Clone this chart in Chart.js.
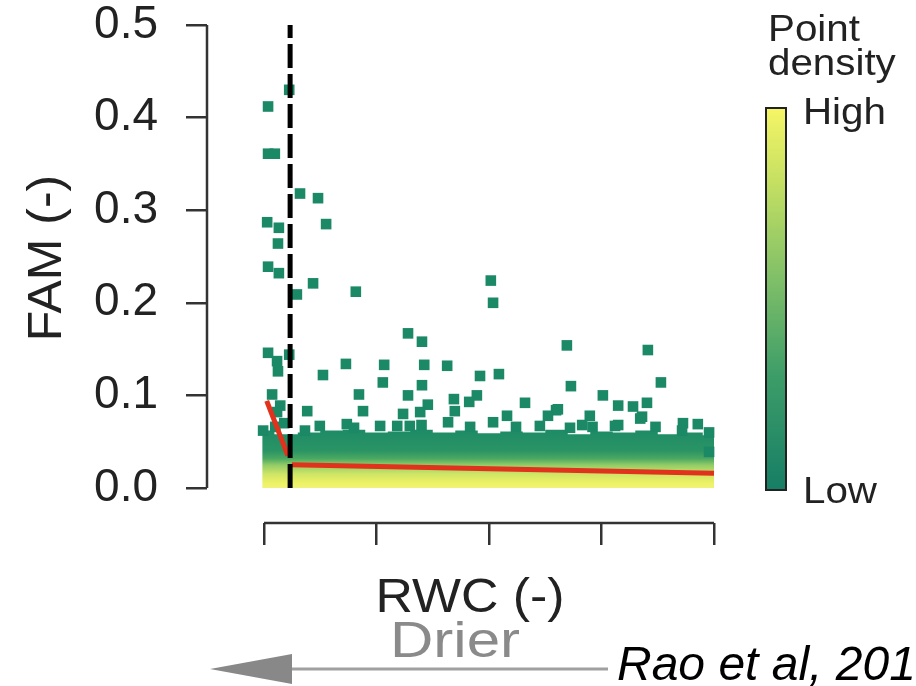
<!DOCTYPE html>
<html>
<head>
<meta charset="utf-8">
<script src="https://cdn.jsdelivr.net/npm/chart.js@4.4.1/dist/chart.umd.min.js"></script>
<style>
html, body { margin: 0; padding: 0; background: #fff; }
canvas { display: block; }
</style>
</head>
<body>
<canvas id="famChart" width="916" height="686"></canvas>
<script>
// axis ticks
const yTicks = [0, 0.1, 0.2, 0.3, 0.4, 0.5];
const xTicks = [0, 0.25, 0.5, 0.75, 1];

// low-density points
const outlierX = [
    0.056, 0.009, 0.009, 0.024, 0.080, 0.120, 0.007, 0.033, 0.138, 0.031,
    0.009, 0.033, 0.109, 0.073, 0.204, 0.504, 0.509, 0.320, 0.351, 0.673,
    0.853, 0.009, 0.029, 0.056, 0.031, 0.182, 0.267, 0.356, 0.407, 0.131,
    0.480, 0.522, 0.264, 0.351, 0.682, 0.882, 0.211, 0.320, 0.422, 0.473,
    0.456, 0.753, 0.018, 0.580, 0.096, 0.220, 0.364, 0.347, 0.424, 0.787,
    0.820, 0.851, 0.649, 0.631, 0.540, 0.309, 0.724, 0.840, 0.036, 0.029, 0.653
];
const outlierY = [
    0.430, 0.412, 0.361, 0.361, 0.318, 0.313, 0.287, 0.281, 0.285, 0.264,
    0.239, 0.232, 0.221, 0.209, 0.212, 0.224, 0.200, 0.167, 0.158, 0.154,
    0.149, 0.146, 0.137, 0.144, 0.126, 0.134, 0.133, 0.133, 0.132, 0.122,
    0.121, 0.123, 0.114, 0.111, 0.110, 0.114, 0.101, 0.100, 0.096, 0.100,
    0.093, 0.100, 0.101, 0.092, 0.083, 0.083, 0.090, 0.082, 0.083, 0.089,
    0.088, 0.092, 0.084, 0.078, 0.078, 0.080, 0.078, 0.077, 0.089, 0.082, 0.085
];

// points sitting on the edge of the dense cloud
const edgeX = [0.707, 0.787, 0.836, 0.931, 0.964, 0.989, 0.929, 0.091, 0.124, 0.184,
    0.258, 0.296, 0.409, 0.324, 0.458, 0.509, 0.613, 0.780, 0.989, -0.002,
    0.025, 0.045, 0.560, 0.680, 0.870, 0.200, 0.350, 0.730];
const edgeY = [0.068, 0.068, 0.075, 0.070, 0.069, 0.060, 0.062, 0.062, 0.067, 0.069,
    0.067, 0.067, 0.071, 0.067, 0.066, 0.071, 0.067, 0.067, 0.039, 0.062,
    0.066, 0.070, 0.066, 0.065, 0.066, 0.065, 0.068, 0.066];

// upper edge of the high-density cloud
const bandX = [-0.004, 0.05, 0.1, 0.15, 0.2, 0.25, 0.3, 0.35, 0.4, 0.45, 0.5,
    0.55, 0.6, 0.65, 0.7, 0.75, 0.8, 0.85, 0.9, 0.95, 1.0];
const bandTop = [0.062, 0.058, 0.060, 0.062, 0.063, 0.060, 0.061, 0.063, 0.060, 0.062, 0.059,
    0.061, 0.060, 0.063, 0.058, 0.061, 0.060, 0.062, 0.058, 0.060, 0.057];

// piecewise fit and threshold
const fitSteepX = [0.006, 0.053];
const fitSteepY = [0.094, 0.035];
const fitFlatX = [0.062, 1.0];
const fitFlatY = [0.025, 0.016];
const thresholdX = 0.058;

const FONT = "'Liberation Sans', Arial, sans-serif";
const TEAL = '#1b8866';

function zip(xs, ys) {
    return xs.map((x, i) => ({ x: x, y: ys[i] }));
}

function bandFill(context) {
    const chart = context.chart;
    if (!chart.chartArea) return TEAL;
    const y = chart.scales.y;
    const g = chart.ctx.createLinearGradient(0, y.getPixelForValue(0.065), 0, y.getPixelForValue(0));
    g.addColorStop(0, '#1d8a67');
    g.addColorStop(0.38, '#2a9464');
    g.addColorStop(0.51, '#4aa862');
    g.addColorStop(0.62, '#93cc66');
    g.addColorStop(0.77, '#cfe566');
    g.addColorStop(0.92, '#eef263');
    g.addColorStop(1, '#f0f27a');
    return g;
}

function stretchText(ctx, text, x, y, align, sx) {
    ctx.save();
    ctx.translate(x, y);
    ctx.scale(sx, 1);
    ctx.textAlign = align;
    ctx.fillText(text, 0, 0);
    ctx.restore();
}

const decorations = {
    id: 'decorations',
    afterDraw(chart) {
        const ctx = chart.ctx;
        const xs = chart.scales.x;
        const ys = chart.scales.y;
        const area = chart.chartArea;

        ctx.save();
        // R style axis lines
        ctx.strokeStyle = '#333';
        ctx.lineWidth = 2.5;
        ctx.beginPath();
        ctx.moveTo(area.left, ys.getPixelForValue(0.5));
        ctx.lineTo(area.left, ys.getPixelForValue(0));
        ctx.moveTo(xs.getPixelForValue(0), area.bottom);
        ctx.lineTo(xs.getPixelForValue(1), area.bottom);
        ctx.stroke();

        // axis titles
        ctx.fillStyle = '#222';
        ctx.textBaseline = 'alphabetic';
        ctx.font = '48px ' + FONT;
        stretchText(ctx, 'RWC (-)', 470, 612, 'center', 1.08);
        ctx.save();
        ctx.translate(61, 258);
        ctx.rotate(-Math.PI / 2);
        stretchText(ctx, 'FAM (-)', 0, 0, 'center', 1.04);
        ctx.restore();

        // drier arrow
        ctx.fillStyle = '#8a8a8a';
        ctx.font = '50px ' + FONT;
        stretchText(ctx, 'Drier', 455, 657, 'center', 1.2);
        ctx.strokeStyle = '#a0a0a0';
        ctx.lineWidth = 3;
        ctx.beginPath();
        ctx.moveTo(290, 669);
        ctx.lineTo(608, 669);
        ctx.stroke();
        ctx.fillStyle = '#888';
        ctx.beginPath();
        ctx.moveTo(210, 669);
        ctx.lineTo(292, 654);
        ctx.lineTo(292, 684);
        ctx.closePath();
        ctx.fill();

        // citation
        ctx.fillStyle = '#000';
        ctx.font = 'italic 48px ' + FONT;
        ctx.textAlign = 'left';
        ctx.fillText('Rao et al, 2015', 617, 680);

        // colour bar
        const cb = ctx.createLinearGradient(0, 490, 0, 108);
        cb.addColorStop(0, '#167e65');
        cb.addColorStop(0.3, '#3d9d68');
        cb.addColorStop(0.55, '#7fbf68');
        cb.addColorStop(0.8, '#c3df62');
        cb.addColorStop(1, '#f6f566');
        ctx.fillStyle = cb;
        ctx.fillRect(766, 108, 20, 382);
        ctx.strokeStyle = '#222';
        ctx.lineWidth = 2;
        ctx.strokeRect(766, 108, 20, 382);

        ctx.fillStyle = '#222';
        ctx.font = '36px ' + FONT;
        stretchText(ctx, 'Point', 768, 41, 'left', 1.12);
        stretchText(ctx, 'density', 768, 75, 'left', 1.12);
        stretchText(ctx, 'High', 803, 124, 'left', 1.12);
        stretchText(ctx, 'Low', 803, 503, 'left', 1.12);
        ctx.restore();
    }
};

const ctx = document.getElementById('famChart').getContext('2d');
new Chart(ctx, {
    type: 'scatter',
    data: {
        datasets: [
            {
                label: 'Threshold',
                data: [{ x: thresholdX, y: 0 }, { x: thresholdX, y: 0.5 }],
                showLine: true,
                borderColor: '#000',
                borderWidth: 5,
                borderDash: [24, 6],
                pointRadius: 0,
                order: 0
            },
            {
                label: 'Fit steep',
                data: zip(fitSteepX, fitSteepY),
                showLine: true,
                borderColor: '#e0321c',
                borderWidth: 5,
                pointRadius: 0,
                order: 1
            },
            {
                label: 'Fit flat',
                data: zip(fitFlatX, fitFlatY),
                showLine: true,
                borderColor: '#e0321c',
                borderWidth: 5,
                pointRadius: 0,
                order: 1
            },
            {
                label: 'Low density',
                data: zip(outlierX, outlierY).concat(zip(edgeX, edgeY)),
                pointStyle: 'rect',
                pointRadius: 7.5,
                backgroundColor: TEAL,
                borderWidth: 0,
                order: 2
            },
            {
                label: 'Dense cloud',
                data: zip(bandX, bandTop),
                showLine: true,
                stepped: 'middle',
                fill: 'origin',
                backgroundColor: bandFill,
                borderColor: TEAL,
                borderWidth: 0,
                pointRadius: 0,
                order: 3
            }
        ]
    },
    options: {
        responsive: false,
        animation: false,
        layout: { padding: { top: 25, right: 196, bottom: 0, left: 0 } },
        plugins: {
            legend: { display: false },
            tooltip: { enabled: false }
        },
        scales: {
            x: {
                type: 'linear',
                min: -0.1267,
                max: 1.0133,
                afterBuildTicks: (scale) => { scale.ticks = xTicks.map(v => ({ value: v })); },
                afterFit: (scale) => { scale.height = 163; },
                border: { display: false },
                grid: { drawOnChartArea: false, drawTicks: true, tickLength: 22, color: '#333', lineWidth: 2.5 },
                ticks: { display: false }
            },
            y: {
                type: 'linear',
                min: -0.0378,
                max: 0.5,
                afterBuildTicks: (scale) => { scale.ticks = yTicks.map(v => ({ value: v })); },
                afterFit: (scale) => {
                    scale.width = 207;
                    // labels overflow is covered by the layout padding
                    scale.paddingTop = 0;
                    scale.paddingBottom = 0;
                },
                border: { display: false },
                grid: { drawOnChartArea: false, drawTicks: true, tickLength: 21, color: '#333', lineWidth: 2.5 },
                ticks: {
                    padding: 28,
                    color: '#222',
                    font: { family: FONT, size: 46 },
                    callback: (v) => Number(v).toFixed(1)
                }
            }
        }
    },
    plugins: [decorations]
});
</script>
</body>
</html>
